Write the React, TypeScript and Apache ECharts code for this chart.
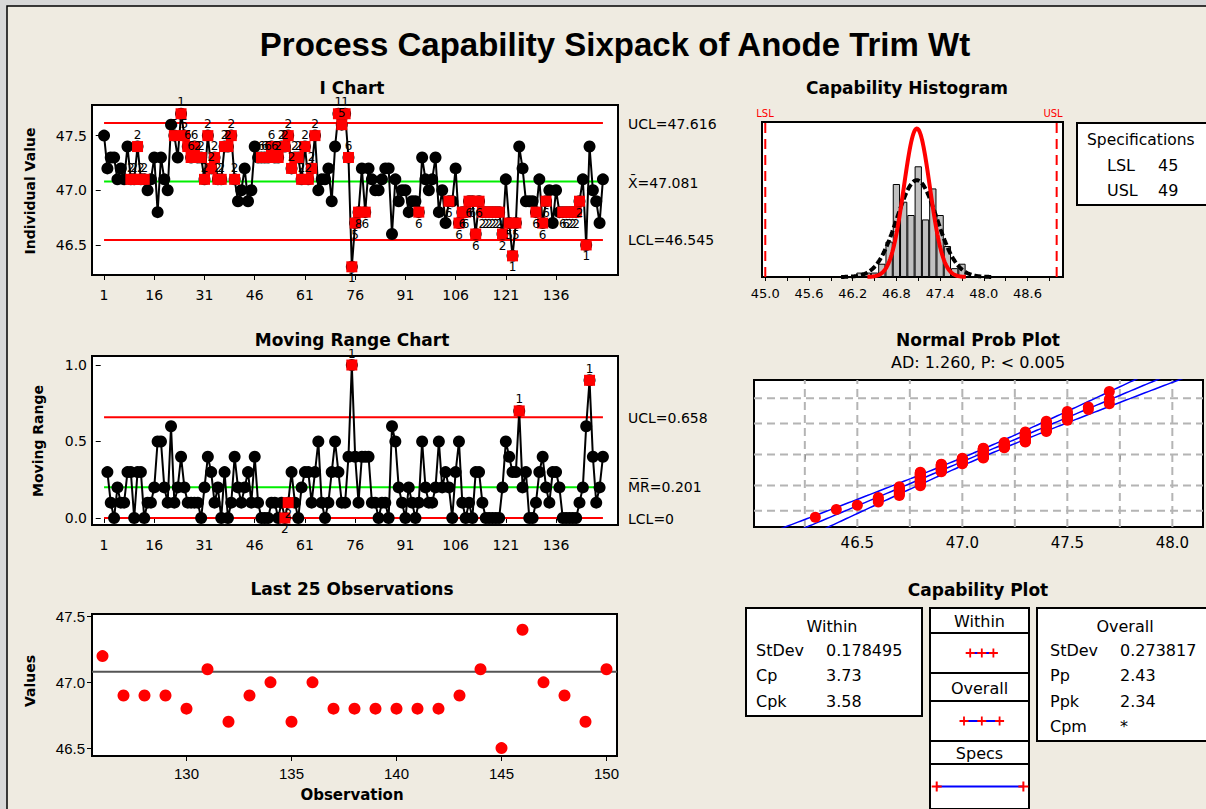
import React, { useEffect, useRef } from "react";
import * as echarts from "echarts";

// ---------- data ----------
const individualValues: number[] = [
  47.5, 47.2, 47.3, 47.3, 47.1, 47.2, 47.1, 47.4, 47.1, 47.1,
  47.4, 47.1, 47.1, 47.0, 47.1, 47.3, 46.8, 47.3, 47.1, 47.0,
  47.6, 47.5, 47.3, 47.7, 47.5, 47.4, 47.3, 47.4, 47.3, 47.3,
  47.1, 47.5, 47.2, 47.3, 47.1, 47.1, 47.4, 47.4, 47.5, 47.1,
  46.9, 47.0, 47.2, 46.9, 47.0, 47.4, 47.3, 47.3, 47.3, 47.3,
  47.4, 47.3, 47.3, 47.4, 47.4, 47.5, 47.2, 47.3, 47.3, 47.1,
  47.4, 47.1, 47.2, 47.5, 47.0, 47.1, 47.1, 47.2, 46.9, 47.4,
  47.7, 47.6, 47.7, 47.3, 46.3, 46.7, 46.8, 47.2, 46.8, 47.2,
  47.1, 47.0, 47.0, 47.1, 47.2, 47.2, 46.6, 47.1, 46.9, 47.0,
  47.0, 46.8, 46.9, 46.9, 46.8, 47.3, 47.1, 47.0, 47.1, 47.3,
  46.8, 47.0, 46.7, 46.9, 46.9, 47.2, 46.7, 46.8, 46.8, 46.9,
  46.9, 46.6, 46.9, 46.8, 46.8, 46.8, 46.8, 46.8, 46.8, 46.6,
  47.1, 46.7, 46.4, 46.7, 47.4, 47.2, 46.9, 46.9, 46.9, 46.8,
  47.1, 46.7, 46.9, 47.0, 46.7, 47.0, 46.8, 46.8, 46.8, 46.8,
  46.8, 46.8, 46.9, 47.1, 46.5, 47.4, 47.0, 46.9, 46.7, 47.1,
];

// [observation, failed test number]
const iChartTests: [number, string][] = [
  [9, "2"], [10, "2"], [11, "2"], [12, "2"], [13, "2"],
  [22, "5"], [24, "1"], [25, "5"], [26, "6"], [27, "6"], [28, "6"], [29, "2"], [30, "2"],
  [31, "2"], [32, "2"], [33, "2"], [34, "2"], [35, "2"], [36, "2"], [37, "2"], [38, "2"],
  [39, "2"], [40, "2"],
  [48, "6"], [49, "6"], [50, "6"], [51, "6"], [52, "6"], [53, "2"], [54, "2"], [55, "2"],
  [56, "2"], [57, "2"], [58, "2"], [59, "2"], [60, "2"], [61, "2"], [62, "2"], [63, "2"], [64, "2"],
  [71, "1"], [72, "5"], [73, "1"], [74, "6"], [75, "1"], [76, "5"], [77, "8"], [79, "6"],
  [95, "6"], [104, "6"], [107, "6"], [108, "6"], [109, "6"], [110, "6"], [111, "6"], [112, "6"],
  [113, "6"], [114, "2"], [115, "2"], [116, "2"], [117, "2"], [118, "2"], [119, "2"], [120, "2"],
  [122, "5"], [123, "1"], [124, "5"],
  [130, "6"], [132, "6"], [133, "6"], [138, "6"], [139, "6"], [140, "2"], [141, "2"], [142, "2"],
  [143, "2"], [145, "1"],
];
const mrTests: [number, string][] = [[55, "2"], [56, "2"], [75, "1"], [125, "1"], [146, "1"]];

const obsTicks = [1, 16, 31, 46, 61, 76, 91, 106, 121, 136];
const iYTicks = [46.5, 47.0, 47.5];
const mrYTicks = [0, 0.5, 1.0];
const last25XTicks = [130, 135, 140, 145, 150];
const last25YTicks = [46.5, 47.0, 47.5];
const histLabelTicks = [45.0, 45.6, 46.2, 46.8, 47.4, 48.0, 48.6];
const histMinorTicks = [45.0, 45.3, 45.6, 45.9, 46.2, 46.5, 46.8, 47.1, 47.4, 47.7, 48.0, 48.3, 48.6, 48.9];
const probLabelTicks = [46.5, 47.0, 47.5, 48.0];
const probMinorTicks = [46.25, 46.5, 46.75, 47.0, 47.25, 47.5, 47.75, 48.0];
const probPercents = [1, 10, 50, 90, 99];

const xbar = 47.081;
const ucl = 47.616;
const lcl = 46.545;
const mrBar = 0.201;
const mrUcl = 0.658;
const mrLcl = 0;
const lsl = 45;
const usl = 49;
const sdWithin = 0.178495;
const sdOverall = 0.273817;
const withinStats: [string, string][] = [["StDev", "0.178495"], ["Cp", "3.73"], ["Cpk", "3.58"]];
const overallStats: [string, string][] = [["StDev", "0.273817"], ["Pp", "2.43"], ["Ppk", "2.34"], ["Cpm", "*"]];

// ---------- helpers ----------
const FONT = "'DejaVu Sans', Verdana, sans-serif";
const NARROW = "'Liberation Sans Narrow', 'Liberation Sans', Arial, sans-serif";

function qnorm(p: number): number {
  const a = [-3.969683028665376e1, 2.209460984245205e2, -2.759285104469687e2, 1.38357751867269e2, -3.066479806614716e1, 2.506628277459239];
  const b = [-5.447609879822406e1, 1.615858368580409e2, -1.556989798598866e2, 6.680131188771972e1, -1.328068155288572e1];
  const c = [-7.784894002430293e-3, -3.223964580411365e-1, -2.400758277161838, -2.549671010115069, 4.374664141464968, 2.938163982698783];
  const d = [7.784695709041462e-3, 3.224671290700398e-1, 2.445134137142996, 3.754408661907416];
  const pl = 0.02425;
  if (p < pl) {
    const q = Math.sqrt(-2 * Math.log(p));
    return (((((c[0] * q + c[1]) * q + c[2]) * q + c[3]) * q + c[4]) * q + c[5]) / ((((d[0] * q + d[1]) * q + d[2]) * q + d[3]) * q + 1);
  }
  if (p > 1 - pl) {
    const q = Math.sqrt(-2 * Math.log(1 - p));
    return -(((((c[0] * q + c[1]) * q + c[2]) * q + c[3]) * q + c[4]) * q + c[5]) / ((((d[0] * q + d[1]) * q + d[2]) * q + d[3]) * q + 1);
  }
  const q = p - 0.5;
  const r = q * q;
  return ((((((a[0] * r + a[1]) * r + a[2]) * r + a[3]) * r + a[4]) * r + a[5]) * q) / (((((b[0] * r + b[1]) * r + b[2]) * r + b[3]) * r + b[4]) * r + 1);
}
const dnorm = (x: number, m: number, s: number) => Math.exp(-0.5 * ((x - m) / s) ** 2) / (s * Math.sqrt(2 * Math.PI));

function buildOption(): any {
  const n = individualValues.length;
  const iData = individualValues.map((v, i) => [i + 1, v]);
  const mrData = individualValues.slice(1).map((v, i) => [i + 2, Math.round(Math.abs(v - individualValues[i]) * 10) / 10]);

  const iFlag = iChartTests.map(([obs, t]) => {
    const v = individualValues[obs - 1];
    return { name: t, value: [obs, v], label: { position: v >= xbar ? "top" : "bottom" } };
  });
  const mrFlag = mrTests.map(([obs, t]) => {
    const v = mrData[obs - 2][1];
    return { name: t, value: [obs, v], label: { position: v >= mrBar ? "top" : "bottom" } };
  });

  const last25 = individualValues.slice(n - 25).map((v, i) => [n - 24 + i, v]);

  // histogram (bins of 0.1)
  const counts = new Map<number, number>();
  individualValues.forEach((v) => {
    const k = Math.round(v * 10);
    counts.set(k, (counts.get(k) || 0) + 1);
  });
  const histData = Array.from(counts.entries()).sort((a, b) => a[0] - b[0]).map(([k, c]) => [k / 10, c]);
  const curve = (sd: number, span: number) => {
    const pts: number[][] = [];
    for (let x = xbar - span * sd; x <= xbar + span * sd + 1e-9; x += 0.01) pts.push([x, n * 0.1 * dnorm(x, xbar, sd)]);
    return pts;
  };

  // probability plot
  const sorted = [...individualValues].sort((a, b) => a - b);
  const probPts = sorted.map((v, i) => [v, qnorm((i + 1 - 0.3) / (n + 0.4))]);
  const fit: number[][] = [], lo: number[][] = [], hi: number[][] = [];
  for (let z = -3.4; z <= 3.5; z += 0.05) {
    const x = xbar + z * sdOverall;
    const se = sdOverall * Math.sqrt(1 / n + (z * z) / (2 * (n - 1)));
    fit.push([x, z]);
    lo.push([x - 1.96 * se, z]);
    hi.push([x + 1.96 * se, z]);
  }
  const pxMin = 46.008, pxMax = 48.146, pyMin = -3.0, pyMax = 3.08;

  const axisBase = (gridIndex: number, min: number, max: number, ticks: number[], labels: number[] | null, fmt: (v: number) => string, extra: any = {}) => ({
    type: "value",
    gridIndex,
    min,
    max,
    axisLine: { show: false },
    splitLine: { show: false },
    axisTick: { show: true, customValues: ticks, length: 5, lineStyle: { color: "#000", width: 1 } },
    axisLabel: labels
      ? { show: true, customValues: labels, color: "#000", fontFamily: FONT, fontSize: 14, margin: 13, formatter: (v: number) => fmt(v) }
      : { show: false },
    ...extra,
  });
  const hidden = (gridIndex: number, min: number, max: number) => ({ type: "value", gridIndex, min, max, show: false });

  const gridBox = { show: true, backgroundColor: "#ffffff", borderColor: "#000000", borderWidth: 2 };
  const grids = [
    { left: 92, top: 105, width: 526, height: 170, ...gridBox },
    { left: 92, top: 356, width: 526, height: 169, ...gridBox },
    { left: 92, top: 614, width: 525, height: 142, ...gridBox },
    { left: 762, top: 122, width: 301, height: 155, ...gridBox },
    { left: 754, top: 380, width: 449, height: 147, ...gridBox },
    { left: 930, top: 633, width: 99, height: 40, ...gridBox },
    { left: 930, top: 701, width: 99, height: 40, ...gridBox },
    { left: 930, top: 764, width: 99, height: 46, ...gridBox },
  ];

  const f1 = (v: number) => v.toFixed(1);
  const fi = (v: number) => String(Math.round(v));
  const xAxis = [
    axisBase(0, -2.6, 154.5, obsTicks, obsTicks, fi),
    axisBase(1, -2.6, 154.5, obsTicks, obsTicks, fi),
    axisBase(2, 125.5, 150.5, last25XTicks, last25XTicks, fi, {
      axisLabel: { customValues: last25XTicks, color: "#000", fontFamily: NARROW, fontSize: 15, margin: 10, formatter: fi },
    }),
    axisBase(3, 44.955, 49.087, histMinorTicks, histLabelTicks, f1, {
      axisTick: { show: true, customValues: histMinorTicks, length: 4, lineStyle: { color: "#000" } },
      axisLabel: { customValues: histLabelTicks, color: "#000", fontFamily: FONT, fontSize: 13, margin: 10, formatter: f1 },
    }),
    axisBase(4, pxMin, pxMax, probMinorTicks, probLabelTicks, f1, {
      axisTick: { show: true, customValues: probMinorTicks, length: 5, lineStyle: { color: "#000" } },
      axisLabel: { customValues: probLabelTicks, color: "#000", fontFamily: FONT, fontSize: 15, margin: 8, formatter: f1 },
    }),
    hidden(5, 44.69, 49.26),
    hidden(6, 44.69, 49.26),
    hidden(7, 44.69, 49.26),
  ];
  const yAxis = [
    axisBase(0, 46.225, 47.78, iYTicks, iYTicks, f1, { axisLabel: { customValues: iYTicks, color: "#000", fontFamily: FONT, fontSize: 14, margin: 5, formatter: f1 } }),
    axisBase(1, -0.046, 1.059, mrYTicks, mrYTicks, f1, { axisLabel: { customValues: mrYTicks, color: "#000", fontFamily: FONT, fontSize: 14, margin: 5, formatter: f1 } }),
    axisBase(2, 46.44, 47.52, last25YTicks, last25YTicks, f1, { axisLabel: { customValues: last25YTicks, color: "#000", fontFamily: NARROW, fontSize: 15, margin: 7, formatter: f1 } }),
    hidden(3, 0, 35),
    hidden(4, pyMin, pyMax),
    hidden(5, -1, 1),
    hidden(6, -1, 1),
    hidden(7, -1, 1),
  ];

  const hline = (xi: number, x0: number, x1: number, y: number, color: string, width = 2, type: any = "solid") => ({
    type: "line", xAxisIndex: xi, yAxisIndex: xi, data: [[x0, y], [x1, y]], symbol: "none", silent: true,
    lineStyle: { color, width, type },
  });
  const vline = (xi: number, x: number, y0: number, y1: number, color: string, width = 2, type: any = "solid") => ({
    type: "line", xAxisIndex: xi, yAxisIndex: xi, data: [[x, y0], [x, y1]], symbol: "none", silent: true,
    lineStyle: { color, width, type },
  });
  const testLabel = { show: true, formatter: "{b}", fontSize: 12, color: "#000", fontFamily: FONT, distance: 0 };
  const cross = "path://M4,0H6V4H10V6H6V10H4V6H0V4H4Z";
  const red = { color: "#ff0000", opacity: 1 };

  const series: any[] = [
    // I chart
    hline(0, 1, n, ucl, "#ff0000"),
    hline(0, 1, n, lcl, "#ff0000"),
    hline(0, 1, n, xbar, "#00ee00"),
    { type: "line", z: 3, xAxisIndex: 0, yAxisIndex: 0, data: iData, symbol: "circle", symbolSize: 12, lineStyle: { color: "#000", width: 2 }, itemStyle: { color: "#000" } },
    { type: "scatter", z: 6, xAxisIndex: 0, yAxisIndex: 0, data: iFlag, symbol: "rect", symbolSize: 11, itemStyle: red, label: testLabel },
    // MR chart
    hline(1, 1, n, mrUcl, "#ff0000"),
    hline(1, 1, n, mrLcl, "#ff0000"),
    hline(1, 1, n, mrBar, "#00ee00"),
    { type: "line", z: 3, xAxisIndex: 1, yAxisIndex: 1, data: mrData, symbol: "circle", symbolSize: 12, lineStyle: { color: "#000", width: 2 }, itemStyle: { color: "#000" } },
    { type: "scatter", z: 6, xAxisIndex: 1, yAxisIndex: 1, data: mrFlag, symbol: "rect", symbolSize: 11, itemStyle: red, label: testLabel },
    // Last 25
    hline(2, 125.5, 150.5, xbar, "#555555", 2),
    { type: "scatter", z: 4, xAxisIndex: 2, yAxisIndex: 2, data: last25, symbol: "circle", symbolSize: 12, itemStyle: red },
    // Histogram
    { type: "bar", xAxisIndex: 3, yAxisIndex: 3, data: histData, barWidth: 7.3, itemStyle: { color: "#c0c0c0", borderColor: "#000", borderWidth: 1 } },
    vline(3, lsl, 0, 35, "#ff0000", 2, [10, 6]),
    vline(3, usl, 0, 35, "#ff0000", 2, [10, 6]),
    { type: "line", z: 4, xAxisIndex: 3, yAxisIndex: 3, data: curve(sdOverall, 3.8), symbol: "none", silent: true, lineStyle: { color: "#000", width: 4, type: [7, 3] } },
    { type: "line", z: 5, xAxisIndex: 3, yAxisIndex: 3, data: curve(sdWithin, 3.8), symbol: "none", silent: true, lineStyle: { color: "#ff0000", width: 4 } },
    // Normal probability plot
    ...probMinorTicks.map((x) => vline(4, x, pyMin, pyMax, "#b4b4b4", 2, [8, 5])),
    ...probPercents.map((p) => hline(4, pxMin, pxMax, qnorm(p / 100), "#b4b4b4", 2, [8, 5])),
    { type: "line", z: 3, xAxisIndex: 4, yAxisIndex: 4, data: lo, symbol: "none", silent: true, lineStyle: { color: "#0000ff", width: 1.5 } },
    { type: "line", z: 3, xAxisIndex: 4, yAxisIndex: 4, data: fit, symbol: "none", silent: true, lineStyle: { color: "#0000ff", width: 1.5 } },
    { type: "line", z: 3, xAxisIndex: 4, yAxisIndex: 4, data: hi, symbol: "none", silent: true, lineStyle: { color: "#0000ff", width: 1.5 } },
    { type: "scatter", z: 5, xAxisIndex: 4, yAxisIndex: 4, data: probPts, symbol: "circle", symbolSize: 11, itemStyle: red },
    // Capability plot intervals
    { type: "line", xAxisIndex: 5, yAxisIndex: 5, data: [[xbar - 3 * sdWithin, 0], [xbar, 0], [xbar + 3 * sdWithin, 0]], symbol: cross, symbolSize: 9, lineStyle: { color: "#0000ff", width: 2 }, itemStyle: red },
    { type: "line", xAxisIndex: 6, yAxisIndex: 6, data: [[xbar - 3 * sdOverall, 0], [xbar, 0], [xbar + 3 * sdOverall, 0]], symbol: cross, symbolSize: 9, lineStyle: { color: "#0000ff", width: 2 }, itemStyle: red },
    { type: "line", xAxisIndex: 7, yAxisIndex: 7, data: [[lsl, 0], [usl, 0]], symbol: cross, symbolSize: 10, lineStyle: { color: "#0000ff", width: 2 }, itemStyle: red },
  ];

  // ---------- graphic texts and boxes ----------
  const txt = (x: number, y: number, text: string, style: any = {}, extra: any = {}) => ({
    type: "text", x, y, z: 100, ...extra,
    style: { text, fill: "#000", fontFamily: FONT, fontSize: 14, align: "left", verticalAlign: "middle", ...style },
  });
  const title = (x: number, y: number, text: string) => txt(x, y, text, { fontWeight: "bold", fontSize: 17, align: "center" });
  const vtext = (x: number, y: number, text: string) => txt(x, y, text, { fontWeight: "bold", fontSize: 14, align: "center" }, { rotation: Math.PI / 2 });
  const box = (x: number, y: number, w: number, h: number) => ({
    type: "rect", z: 50, shape: { x, y, width: w, height: h }, style: { fill: "#ffffff", stroke: "#000", lineWidth: 2 },
  });

  const graphic: any[] = [
    { type: "rect", z: -10, shape: { x: 0, y: 0, width: 7, height: 809 }, style: { fill: "#d8d8d8" } },
    { type: "rect", z: -10, shape: { x: 0, y: 0, width: 1206, height: 6 }, style: { fill: "#d8d8d8" } },
    { type: "polyline", z: -5, shape: { points: [[7, 809], [7, 6], [1206, 6]] }, style: { stroke: "#000", lineWidth: 1.5, fill: null } },
    txt(615, 44, "Process Capability Sixpack of Anode Trim Wt", { fontFamily: "'Liberation Sans', Arial, sans-serif", fontWeight: "bold", fontSize: 33, align: "center" }),
    title(352, 88, "I Chart"),
    title(907, 88, "Capability Histogram"),
    title(352, 340, "Moving Range Chart"),
    title(978, 340, "Normal Prob Plot"),
    txt(978, 362, "AD: 1.260, P: < 0.005", { fontSize: 16, align: "center" }),
    title(352, 589, "Last 25 Observations"),
    title(978, 590, "Capability Plot"),
    vtext(30, 191, "Individual Value"),
    vtext(38, 441, "Moving Range"),
    vtext(30, 681, "Values"),
    txt(352, 795, "Observation", { fontWeight: "bold", fontSize: 15, align: "center" }),
    // control limit labels
    txt(628, 124, "UCL=" + ucl.toFixed(3)),
    txt(628, 183, "X\u0304=" + xbar.toFixed(3)),
    txt(628, 240, "LCL=" + lcl.toFixed(3)),
    txt(628, 418, "UCL=" + mrUcl.toFixed(3)),
    txt(628, 487, "M\u0305R\u0305=" + mrBar.toFixed(3)),
    txt(628, 519, "LCL=" + String(mrLcl)),
    // spec labels on histogram
    txt(765, 113, "LSL", { fill: "#ff0000", fontSize: 10, align: "center" }),
    txt(1053, 113, "USL", { fill: "#ff0000", fontSize: 10, align: "center" }),
    // specifications box
    box(1077, 123, 140, 82),
    txt(1087, 140, "Specifications", { fontSize: 15.5 }),
    txt(1107, 165, "LSL", { fontSize: 16 }),
    txt(1158, 165, String(lsl), { fontSize: 16 }),
    txt(1107, 190, "USL", { fontSize: 16 }),
    txt(1158, 190, String(usl), { fontSize: 16 }),
    // within box
    box(746, 608, 176, 108),
    txt(832, 626, "Within", { fontSize: 16, align: "center" }),
    ...withinStats.flatMap(([k, v], i) => [txt(756, 650 + i * 25.5, k, { fontSize: 16 }), txt(826, 650 + i * 25.5, v, { fontSize: 16 })]),
    // overall box
    box(1037, 608, 180, 133),
    txt(1125, 626, "Overall", { fontSize: 16, align: "center" }),
    ...overallStats.flatMap(([k, v], i) => [txt(1050, 650 + i * 25.5, k, { fontSize: 16 }), txt(1120, 650 + i * 25.5, v, { fontSize: 16 })]),
    // middle legend column headers
    box(930, 608, 99, 25),
    txt(979.5, 621, "Within", { fontSize: 16, align: "center" }),
    box(930, 673, 99, 28),
    txt(979.5, 688, "Overall", { fontSize: 16, align: "center" }),
    box(930, 741, 99, 23),
    txt(979.5, 753, "Specs", { fontSize: 16, align: "center" }),
  ];

  return {
    animation: false,
    backgroundColor: "#efebe1",
    textStyle: { fontFamily: FONT },
    grid: grids,
    xAxis,
    yAxis,
    series,
    graphic,
  };
}

export default function App() {
  const ref = useRef<HTMLDivElement>(null);
  useEffect(() => {
    if (!ref.current) return;
    const chart = echarts.init(ref.current, null, { renderer: "svg" });
    chart.setOption(buildOption());
    return () => chart.dispose();
  }, []);
  return <div ref={ref} style={{ position: "fixed", left: 0, top: 0, width: 1206, height: 809 }} />;
}
